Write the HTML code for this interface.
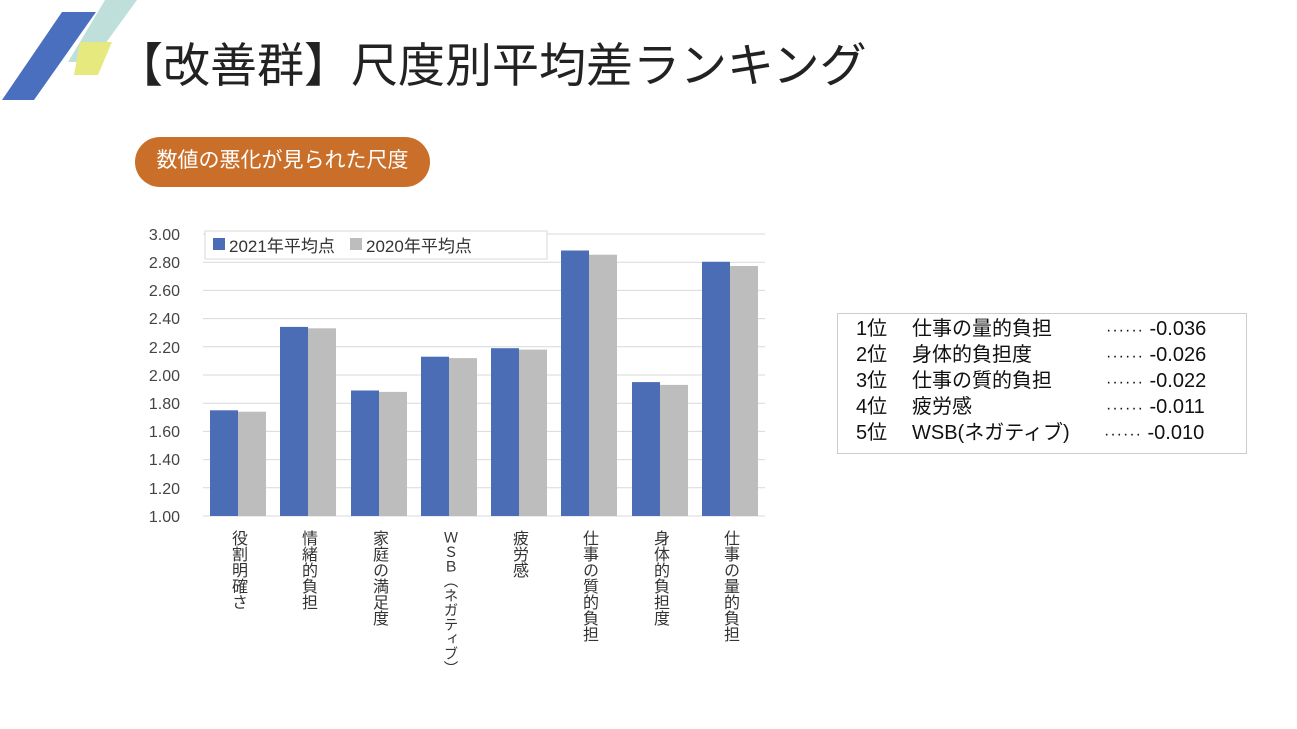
<!DOCTYPE html>
<html><head><meta charset="utf-8"><style>
body{margin:0;width:1297px;height:729px;background:#fff;overflow:hidden;position:relative;font-family:"Liberation Sans","Noto Sans CJK JP",sans-serif}
.t{position:absolute;left:116px;top:27px;font-size:47px;color:#222;white-space:nowrap}
.pill{position:absolute;left:135px;top:137px;width:295px;height:50px;border-radius:25px;background:#c96f2a;color:#fff;font-size:21px;line-height:48px;text-align:center}
.box{position:absolute;left:837px;top:313px;width:410px;height:141px;border:1.5px solid #ccc;box-sizing:border-box;font-size:20px;color:#111}
.row{position:absolute;left:18px;height:26px;white-space:nowrap;line-height:26px}
.row span{position:absolute}
.d{letter-spacing:1px;font-size:16px}
</style></head><body>
<svg width="1297" height="729" style="position:absolute;left:0;top:0">
<polygon points="62,12 96,12 34,100 2,100" fill="#4a6fbf"/>
<polygon points="105,0 137,0 92,62 68,62" fill="#bfe0da"/>
<polygon points="80,42 112,42 98,75 74,75" fill="#e6ea7e"/>
<g stroke="#d9d9d9" stroke-width="1">
<line x1="203" x2="765" y1="234" y2="234"/><line x1="203" x2="765" y1="262.2" y2="262.2"/>
<line x1="203" x2="765" y1="290.4" y2="290.4"/><line x1="203" x2="765" y1="318.6" y2="318.6"/>
<line x1="203" x2="765" y1="346.8" y2="346.8"/><line x1="203" x2="765" y1="375" y2="375"/>
<line x1="203" x2="765" y1="403.2" y2="403.2"/><line x1="203" x2="765" y1="431.4" y2="431.4"/>
<line x1="203" x2="765" y1="459.6" y2="459.6"/><line x1="203" x2="765" y1="487.8" y2="487.8"/>
<line x1="203" x2="765" y1="516" y2="516"/>
</g>
<g font-size="16" fill="#444" text-anchor="end" font-family="Liberation Sans,sans-serif">
<text x="180" y="240">3.00</text><text x="180" y="268">2.80</text><text x="180" y="296">2.60</text>
<text x="180" y="324">2.40</text><text x="180" y="353">2.20</text><text x="180" y="381">2.00</text>
<text x="180" y="409">1.80</text><text x="180" y="437">1.60</text><text x="180" y="465">1.40</text>
<text x="180" y="494">1.20</text><text x="180" y="522">1.00</text>
</g>
<g fill="#4a6db5">
<rect x="210" y="410.3" width="28" height="105.7"/>
<rect x="280" y="326.9" width="28" height="189.1"/>
<rect x="351" y="390.5" width="28" height="125.5"/>
<rect x="421" y="356.7" width="28" height="159.3"/>
<rect x="491" y="348.2" width="28" height="167.8"/>
<rect x="561" y="250.5" width="28" height="265.5"/>
<rect x="632" y="382.1" width="28" height="133.9"/>
<rect x="702" y="261.8" width="28" height="254.2"/>
</g>
<g fill="#bdbdbd">
<rect x="238" y="411.7" width="28" height="104.3"/>
<rect x="308" y="328.3" width="28" height="187.7"/>
<rect x="379" y="391.9" width="28" height="124.1"/>
<rect x="449" y="358.1" width="28" height="157.9"/>
<rect x="519" y="349.6" width="28" height="166.4"/>
<rect x="589" y="254.7" width="28" height="261.3"/>
<rect x="660" y="384.9" width="28" height="131.1"/>
<rect x="730" y="266" width="28" height="250"/>
</g>
<rect x="205" y="231" width="342" height="28" fill="#fff" stroke="#d9d9d9"/>
<rect x="213" y="238" width="12" height="12" fill="#4a6db5"/>
<rect x="350" y="238" width="12" height="12" fill="#bdbdbd"/>
<g font-size="17" fill="#333" font-family="Liberation Sans,Noto Sans CJK JP,sans-serif">
<text x="229" y="252">2021年平均点</text><text x="366" y="252">2020年平均点</text>
</g>
<g font-size="16" fill="#333" font-family="Noto Sans CJK JP,sans-serif" style="writing-mode:vertical-rl">
<text x="240" y="530">役割明確さ</text>
<text x="310" y="530">情緒的負担</text>
<text x="381" y="530">家庭の満足度</text>
<text x="451" y="530" font-size="14.5">ＷＳＢ（ネガティブ）</text>
<text x="521" y="530">疲労感</text>
<text x="591" y="530">仕事の質的負担</text>
<text x="662" y="530">身体的負担度</text>
<text x="732" y="530">仕事の量的負担</text>
</g>
</svg>
<div class="t">【改善群】尺度別平均差ランキング</div>
<div class="pill">数値の悪化が見られた尺度</div>
<div class="box">
<div class="row" style="top:2px"><span style="left:0">1位</span><span style="left:56px">仕事の量的負担</span><span style="left:250px"><span class="d" style="position:static">······</span> -0.036</span></div>
<div class="row" style="top:28px"><span style="left:0">2位</span><span style="left:56px">身体的負担度</span><span style="left:250px"><span class="d" style="position:static">······</span> -0.026</span></div>
<div class="row" style="top:54px"><span style="left:0">3位</span><span style="left:56px">仕事の質的負担</span><span style="left:250px"><span class="d" style="position:static">······</span> -0.022</span></div>
<div class="row" style="top:80px"><span style="left:0">4位</span><span style="left:56px">疲労感</span><span style="left:250px"><span class="d" style="position:static">······</span> -0.011</span></div>
<div class="row" style="top:106px"><span style="left:0">5位</span><span style="left:56px">WSB(ネガティブ)</span><span style="left:248px"><span class="d" style="position:static">······</span> -0.010</span></div>
</div>
</body></html>
